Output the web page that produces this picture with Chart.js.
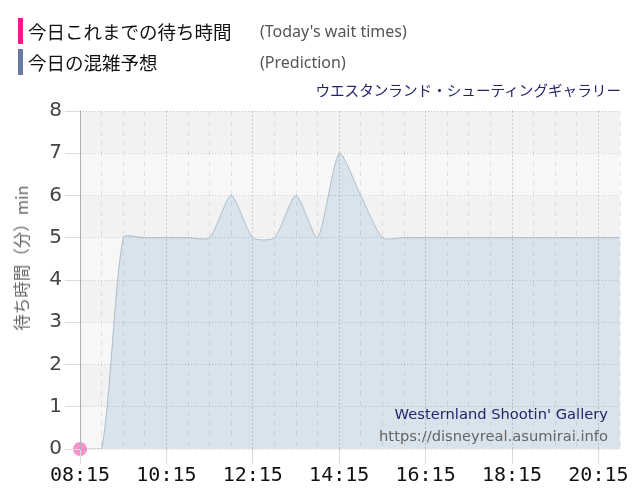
<!DOCTYPE html>
<html>
<head>
<meta charset="utf-8">
<script src="https://cdn.jsdelivr.net/npm/chart.js@4.4.1/dist/chart.umd.min.js"></script>
<style>
  body { margin: 0; background: #fff; }
  #wrap { position: relative; width: 640px; height: 500px; overflow: hidden; }
  #wait-chart { position: absolute; left: 0; top: 0; }
  .lg-bar { position: absolute; left: 18px; width: 5px; height: 26px; }
  .lg-jp { position: absolute; left: 28px; font-family: "Noto Sans CJK JP", sans-serif; font-size: 18.5px; color: #111; line-height: 26px; }
  .lg-en { position: absolute; left: 260px; font-family: "Noto Sans", sans-serif; font-size: 16px; color: #555; line-height: 26px; }
  .title-jp { position: absolute; right: 19px; top: 80px; font-family: "Noto Sans CJK JP", sans-serif; font-size: 14.6px; color: #24246a; line-height: 20px; }
  .yname { position: absolute; left: 21px; top: 258px; transform: translate(-50%, -50%) rotate(-90deg); white-space: nowrap;
           font-family: "Noto Sans CJK JP", sans-serif; font-size: 16.5px; color: #666; }
  .credit { position: absolute; right: 32px; font-family: "DejaVu Sans", sans-serif; font-size: 14.7px; line-height: 20px; text-align: right; }
</style>
</head>
<body>
<div id="wrap">
  <canvas id="wait-chart" width="640" height="500"></canvas>
  <div class="lg-bar" style="top:18px;background:#f2198c"></div>
  <div class="lg-jp" style="top:18px">今日これまでの待ち時間</div>
  <div class="lg-en" style="top:18px">(Today's wait times)</div>
  <div class="lg-bar" style="top:49px;background:#6a7aa6"></div>
  <div class="lg-jp" style="top:49px">今日の混雑予想</div>
  <div class="lg-en" style="top:49px">(Prediction)</div>
  <div class="title-jp">ウエスタンランド・シューティングギャラリー</div>
  <div class="yname">待ち時間（分）min</div>
  <div class="credit" style="top:404px;color:#24246a">Westernland Shootin' Gallery</div>
  <div class="credit" style="top:426px;color:#666">https://disneyreal.asumirai.info</div>
</div>
<script>
// half-hour slots for the day
const timeLabels = ['08:15', '08:45', '09:15', '09:45', '10:15', '10:45', '11:15', '11:45', '12:15',
  '12:45', '13:15', '13:45', '14:15', '14:45', '15:15', '15:45', '16:15', '16:45', '17:15',
  '17:45', '18:15', '18:45', '19:15', '19:45', '20:15', '20:45'];
const shownLabels = ['08:15', '10:15', '12:15', '14:15', '16:15', '18:15', '20:15'];
const predictionValues = [0, 0, 5, 5, 5, 5, 5, 6, 5, 5, 6, 5, 7, 6, 5, 5, 5, 5, 5, 5, 5, 5, 5, 5, 5, 5];
const todayValues = [0];
const yMin = 0;
const yMax = 8;

const isMajor = (i) => shownLabels.includes(timeLabels[i]);

// alternating grey bands behind the plot
const bandPlugin = {
  id: 'bands',
  beforeDraw(chart) {
    const { ctx, chartArea: a, scales: { y } } = chart;
    ctx.save();
    for (let v = yMin; v < yMax; v++) {
      const top = y.getPixelForValue(v + 1);
      const bot = y.getPixelForValue(v);
      ctx.fillStyle = v % 2 ? '#f2f2f2' : '#f7f7f7';
      ctx.fillRect(a.left, top, a.right - a.left, bot - top);
    }
    ctx.restore();
  },
};

const ctx = document.getElementById('wait-chart').getContext('2d');
new Chart(ctx, {
  type: 'line',
  data: {
    labels: timeLabels,
    datasets: [
      {
        label: 'Today',
        data: todayValues,
        pointRadius: 7,
        pointBackgroundColor: 'rgba(243,135,198,0.9)',
        pointBorderWidth: 0,
        borderWidth: 0,
        showLine: false,
        clip: false,
      },
      {
        label: 'Prediction',
        data: predictionValues,
        borderColor: '#aebdcb',
        borderWidth: 1,
        backgroundColor: '#d9e3eb',
        fill: 'origin',
        tension: 0.22,
        pointRadius: 0,
      },
    ],
  },
  options: {
    responsive: false,
    animation: false,
    layout: { padding: { top: 111, right: 20, left: 0, bottom: 0 } },
    plugins: { legend: { display: false }, tooltip: { enabled: false } },
    scales: {
      x: {
        afterFit: (s) => { s.height = 51; },
        grid: {
          z: 1,
          color: (c) => (c.index === 0 ? '#a8b0b8' : isMajor(c.index) ? 'rgba(0,0,0,0.16)' : 'rgba(0,0,0,0.08)'),
          tickLength: 15,
          tickColor: (c) => (isMajor(c.index) ? '#dcdcdc' : 'rgba(0,0,0,0)'),
          tickBorderDash: [],
        },
        border: {
          display: false,
          dash: (c) => (c.index === 0 ? [] : isMajor(c.index) ? [2, 2] : [5, 5]),
        },
        ticks: {
          autoSkip: false,
          maxRotation: 0,
          padding: 0,
          color: '#111',
          font: { family: 'DejaVu Sans Mono', size: 20 },
          callback: (v, i) => (isMajor(i) ? timeLabels[i] : ''),
        },
      },
      y: {
        min: yMin,
        max: yMax,
        afterFit: (s) => { s.width = 80; },
        grid: {
          z: 1,
          color: 'rgba(0,0,0,0.16)',
          tickLength: 15,
          tickColor: '#dcdcdc',
          tickBorderDash: [],
        },
        border: { display: false, dash: [1, 2] },
        ticks: {
          stepSize: 1,
          padding: 3,
          color: '#444',
          font: { family: 'DejaVu Sans', size: 20 },
        },
      },
    },
  },
  plugins: [bandPlugin],
});
</script>
</body>
</html>
